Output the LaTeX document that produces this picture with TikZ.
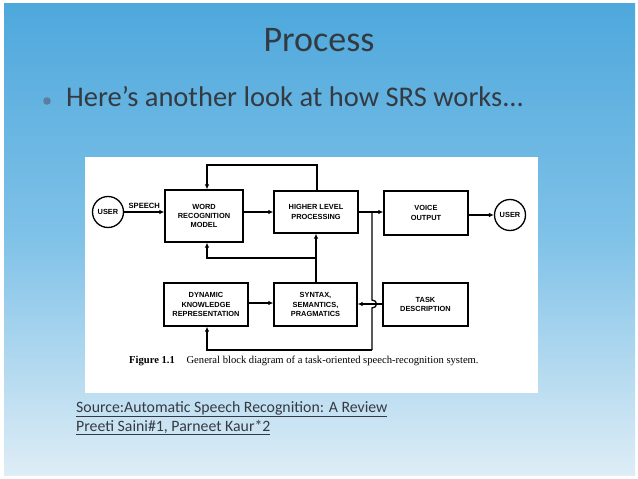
\documentclass[tikz,border=0pt]{standalone}
\usepackage{fontspec}
\setmainfont{Carlito}
\newfontfamily\diagfont{Liberation Sans}
\newfontfamily\capfont{Liberation Serif}
\usetikzlibrary{arrows.meta}
\definecolor{skyA}{RGB}{78,168,220}
\definecolor{skyB}{RGB}{128,194,232}
\definecolor{skyC}{RGB}{222,237,246}
\definecolor{titlegray}{RGB}{52,58,66}
\definecolor{bulletblue}{RGB}{92,124,160}
\begin{document}
\begin{tikzpicture}[x=1pt,y=-1pt,
  blk/.style={draw=black,line width=1.3pt,fill=white,inner sep=0pt,align=center,
    font=\diagfont\bfseries\fontsize{7.4}{9.3}\selectfont},
  usr/.style={draw=black,line width=1.3pt,circle,minimum size=31pt,inner sep=0pt,
    font=\diagfont\bfseries\fontsize{7.4}{9}\selectfont},
  wire/.style={line width=1.3pt},
  arr/.style={wire,-{Latex[length=5pt,width=4.5pt]}}]
\useasboundingbox (0,0) rectangle (638,479);
\fill[white] (0,0) rectangle (638,479);
\shade[top color=skyA,bottom color=skyB] (4,3) rectangle (635,240);
\shade[top color=skyB,bottom color=skyC] (4,239.5) rectangle (635,475);
% title and bullet
\node[anchor=base,text=titlegray,font=\fontsize{36}{40}\selectfont] (title) at (319,52) {Process};
\fill[bulletblue] (47,101) circle (3.8);
\node[anchor=base west,inner sep=0pt,text=titlegray,font=\fontsize{28.5}{34}\selectfont] (bul) at (66,106) {Here’s another look at how SRS works...};
% figure panel
\fill[white] (85,157) rectangle (538,393);
\node[blk,minimum width=78pt,minimum height=52pt] (wrm) at (204,216) {WORD\\RECOGNITION\\MODEL};
\node[blk,minimum width=84pt,minimum height=42pt] (hlp) at (316,212) {HIGHER LEVEL\\PROCESSING};
\node[blk,minimum width=84pt,minimum height=44pt] (vo) at (426,213) {VOICE\\OUTPUT};
\node[usr] (ul) at (108,212) {USER};
\node[usr] (ur) at (510,215) {USER};
\node[blk,minimum width=84pt,minimum height=43pt] (dkr) at (206,304.5) {DYNAMIC\\KNOWLEDGE\\REPRESENTATION};
\node[blk,minimum width=83pt,minimum height=43pt] (syn) at (315.5,304.5) {SYNTAX,\\SEMANTICS,\\PRAGMATICS};
\node[blk,minimum width=85pt,minimum height=43pt] (task) at (425.5,304.5) {TASK\\DESCRIPTION};
% connectors
\draw[arr] (ul.east) -- node[above=1pt,font=\diagfont\bfseries\fontsize{7.6}{9}\selectfont,inner sep=1.5pt] (sp) {SPEECH} (ul.east -| wrm.west);
\draw[arr] (wrm.east |- hlp.west) -- (hlp.west);
\coordinate (br) at (372,212);
\draw[arr] (hlp.east) -- (vo.west |- hlp.east);
\draw[arr] (vo.east |- ur.west) -- (ur.west);
\coordinate (tl) at (317,165);
\draw[arr] (hlp.north -| tl) -- (tl) -- (tl -| 207,0) -- (wrm.north -| 207,0);
\coordinate (jn) at (316,258);
\draw[arr] (syn.north -| jn) -- (hlp.south -| jn);
\draw[arr] (jn) -- (jn -| 207,0) -- (wrm.south -| 207,0);
\coordinate (hopA) at (372,300);
\coordinate (hopB) at (372,308);
\coordinate (bl) at (372,350);
\draw[wire] (br) -- (hopA) .. controls (378,300) and (378,308) .. (hopB) -- (bl);
\draw[arr] (bl) -- (bl -| 207,0) -- (dkr.south -| 207,0);
\draw[arr] (dkr.east |- 0,303) -- (syn.west |- 0,303);
\draw[arr] (task.west |- 0,304) -- (syn.east |- 0,304);
% caption
\node[anchor=base west,inner sep=0pt,font=\capfont\fontsize{10.6}{12}\selectfont] (cap) at (129,363) {\textbf{Figure 1.1}\hspace{1.1em}General block diagram of a task-oriented speech-recognition system.};
% source
\node[anchor=base west,inner sep=0pt,align=left,text=titlegray,font=\fontsize{15.8}{19}\selectfont] (src) at (76,431) {\underline{Source:Automatic Speech Recognition: A Review}\\\underline{Preeti Saini\#1, Parneet Kaur*2}};
\end{tikzpicture}
\end{document}
